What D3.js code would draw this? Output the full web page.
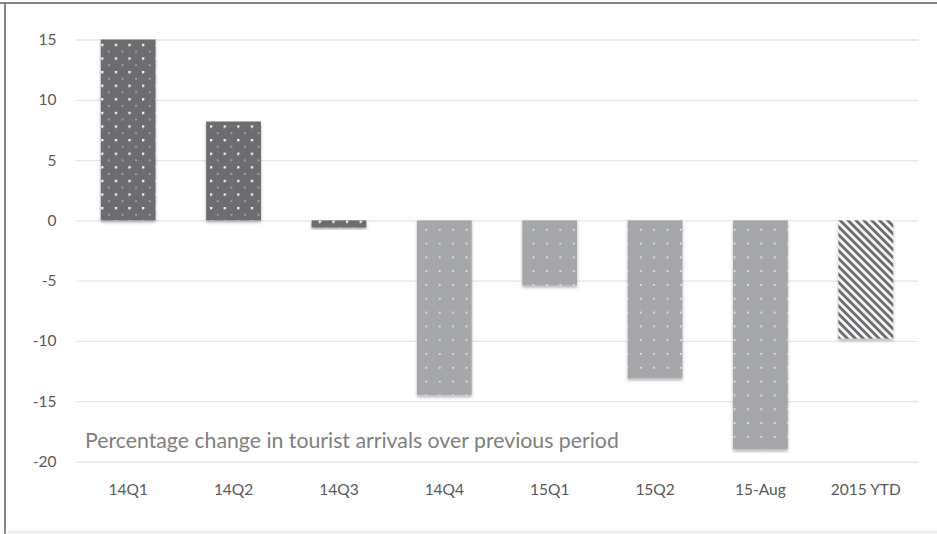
<!DOCTYPE html>
<html>
<head>
<meta charset="utf-8">
<script src="https://cdn.jsdelivr.net/npm/d3@7"></script>
<style>
  html, body { margin: 0; padding: 0; background: #fff; }
  svg { display: block; }
</style>
</head>
<body>
<svg id="chart" width="937" height="534"></svg>
<script>
// Tourist arrivals: percentage change over previous period
const categories = ["14Q1", "14Q2", "14Q3", "14Q4", "15Q1", "15Q2", "15-Aug", "2015 YTD"];
const values = [15.0, 8.2, -0.6, -14.5, -5.4, -13.1, -19.0, -9.8];
const fills = ["dark", "dark", "dark", "light", "light", "light", "light", "stripe"];
const yTicks = [15, 10, 5, 0, -5, -10, -15, -20];
const note = "Percentage change in tourist arrivals over previous period";

const W = 937, H = 534;
const svg = d3.select("#chart");
const font = "Lato, 'Open Sans', 'DejaVu Sans', sans-serif";

const x = d3.scaleBand().domain(categories).range([75.5, 918.5]).paddingInner(0.48).paddingOuter(0.24);
const y = d3.scaleLinear().domain([-20, 15]).range([461.5, 39.5]);

const defs = svg.append("defs");

// dotted fill on dark grey
const pDark = defs.append("pattern").attr("id", "p-dark")
  .attr("patternUnits", "userSpaceOnUse").attr("width", 13.6).attr("height", 13.6)
  .attr("x", 6).attr("y", 3);
pDark.append("rect").attr("width", 13.6).attr("height", 13.6).attr("fill", "#6c6d70");
pDark.append("circle").attr("cx", 0.9).attr("cy", 0.9).attr("r", 1.5).attr("fill", "#f6f6f6");
pDark.append("circle").attr("cx", 7.7).attr("cy", 7.7).attr("r", 0.9).attr("fill", "#b9b9bb");

// dotted fill on light grey
const pLight = defs.append("pattern").attr("id", "p-light")
  .attr("patternUnits", "userSpaceOnUse").attr("width", 13.4).attr("height", 13.8)
  .attr("x", 10).attr("y", 8);
pLight.append("rect").attr("width", 13.4).attr("height", 13.8).attr("fill", "#a6a7aa");
pLight.append("circle").attr("cx", 0.9).attr("cy", 0.9).attr("r", 1.1).attr("fill", "#dedede");

// diagonal stripes
const pStripe = defs.append("pattern").attr("id", "p-stripe")
  .attr("patternUnits", "userSpaceOnUse").attr("width", 5.6).attr("height", 5.6)
  .attr("patternTransform", "rotate(-45)");
pStripe.append("rect").attr("width", 5.6).attr("height", 5.6).attr("fill", "#f4f4f4");
pStripe.append("rect").attr("width", 2.8).attr("height", 5.6).attr("fill", "#6c6d70");

const shadow = defs.append("filter").attr("id", "shadow")
  .attr("x", "-20%").attr("y", "-20%").attr("width", "140%").attr("height", "140%");
shadow.append("feDropShadow").attr("dx", 0).attr("dy", 2).attr("stdDeviation", 1.6)
  .attr("flood-color", "#000").attr("flood-opacity", 0.3);

// frame
svg.append("line").attr("x1", 0).attr("x2", W).attr("y1", 3).attr("y2", 3)
  .attr("stroke", "#858585").attr("stroke-width", 2);
svg.append("line").attr("x1", 5).attr("x2", 5).attr("y1", 2).attr("y2", H)
  .attr("stroke", "#858585").attr("stroke-width", 2);
svg.append("line").attr("x1", 5).attr("x2", W).attr("y1", 532).attr("y2", 532)
  .attr("stroke", "#dcdcdc").attr("stroke-width", 1);

// gridlines and y labels
const yAxis = d3.axisLeft(y).tickValues(yTicks).tickSize(-(918.5 - 75.5)).tickPadding(19)
  .tickFormat(d3.format("d"));
const gy = svg.append("g").attr("transform", "translate(75.5,0)").call(yAxis);
gy.select(".domain").remove();
gy.selectAll(".tick line").attr("stroke", "#e6e6e6").attr("stroke-width", 1.3);
gy.selectAll(".tick text").attr("fill", "#595959").attr("font-family", font)
  .attr("font-size", 15.5).text(d => d < 0 ? "-" + Math.abs(d) : d);

// bars
svg.append("g").selectAll("rect").data(categories).join("rect")
  .attr("x", d => x(d))
  .attr("width", x.bandwidth())
  .attr("y", (d, i) => y(Math.max(0, values[i])))
  .attr("height", (d, i) => Math.abs(y(values[i]) - y(0)))
  .attr("fill", (d, i) => "url(#p-" + fills[i] + ")")
  .attr("filter", "url(#shadow)");

// category labels
const xAxis = d3.axisBottom(x).tickSize(0).tickPadding(0);
const gx = svg.append("g").attr("transform", "translate(0,490)").call(xAxis);
gx.select(".domain").remove();
gx.selectAll(".tick text").attr("fill", "#595959").attr("font-family", font)
  .attr("font-size", 15.5).attr("dy", "0.35em");

// note inside the plot
const t = svg.append("text").attr("x", 85).attr("y", 441).attr("dy", "0.35em")
  .attr("fill", "#808080").attr("font-family", font).attr("font-size", 18).text(note);
const len = t.node().getComputedTextLength();
t.attr("font-size", 18 * 534 / len);
</script>
</body>
</html>
